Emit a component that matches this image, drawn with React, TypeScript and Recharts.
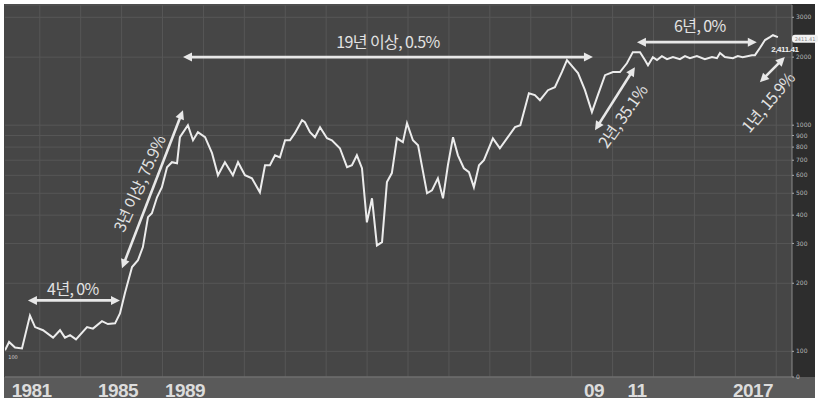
import React from "react";
import {
  LineChart,
  Line,
  XAxis,
  YAxis,
  CartesianGrid,
  ReferenceLine,
  ReferenceDot,
} from "recharts";

// KOSPI (log scale)
const years = [
  1980.0, 1980.2, 1980.49, 1980.83, 1981.22, 1981.47, 1981.86, 1982.35, 1982.69, 1982.93,
  1983.18, 1983.47, 1984.01, 1984.3, 1984.74, 1985.03, 1985.38, 1985.62, 1985.87, 1986.21,
  1986.5, 1986.74, 1986.99, 1987.18, 1987.43, 1987.67, 1987.92, 1988.16, 1988.41, 1988.55,
  1988.94, 1989.19, 1989.43, 1989.78, 1990.12, 1990.41, 1990.75, 1991.14, 1991.39, 1991.73,
  1992.07, 1992.46, 1992.71, 1992.95, 1993.2, 1993.44, 1993.69, 1993.93, 1994.17, 1994.52,
  1994.66, 1994.91, 1995.15, 1995.4, 1995.74, 1995.98, 1996.37, 1996.72, 1996.96, 1997.2,
  1997.45, 1997.69, 1997.94, 1998.18, 1998.43, 1998.67, 1998.91, 1999.16, 1999.45, 1999.65,
  1999.94, 2000.19, 2000.63, 2000.87, 2001.16, 2001.41, 2001.65, 2001.9, 2002.14, 2002.43,
  2002.68, 2002.92, 2003.17, 2003.41, 2003.85, 2004.19, 2004.58, 2004.93, 2005.19, 2005.61,
  2005.9, 2006.15, 2006.54, 2006.88, 2007.22, 2007.47, 2007.76, 2008.01, 2008.35, 2008.69,
  2008.98, 2009.33, 2009.72, 2010.06, 2010.4, 2010.69, 2011.04, 2011.28, 2011.43, 2011.67,
  2011.87, 2012.11, 2012.36, 2012.65, 2012.99, 2013.24, 2013.48, 2013.82, 2014.21, 2014.56,
  2014.8, 2014.95, 2015.19, 2015.58, 2015.82, 2016.06, 2016.51, 2016.66, 2016.9, 2017.15,
  2017.39, 2017.54, 2017.78,
];

const kospi = [
  101, 110, 104, 103, 144, 128, 124, 115, 124, 115,
  118, 113, 128, 126, 136, 132, 133, 147, 182, 236,
  253, 289, 392, 408, 480, 532, 652, 686, 679, 885,
  1000, 858, 931, 885, 752, 601, 686, 601, 686, 601,
  582, 505, 665, 665, 736, 721, 858, 858, 922, 1052,
  1031, 931, 885, 980, 875, 858, 791, 652, 665, 736,
  645, 372, 475, 294, 304, 560, 614, 875, 841, 1021,
  858, 816, 500, 515, 582, 475, 665, 885, 736, 645,
  620, 532, 665, 700, 875, 791, 885, 980, 1000, 1385,
  1358, 1290, 1428, 1472, 1717, 1941, 1807, 1699, 1428, 1142,
  1358, 1664, 1717, 1717, 1879, 2104, 2104, 1941, 1841, 2000,
  1941, 2020, 1958, 2000, 1958, 2020, 1979, 2020, 1958, 2000,
  1979, 2084, 2000, 1979, 2020, 2000, 2040, 2040, 2193, 2379,
  2451, 2500, 2451,
];

const xTickYears = [1981.3, 1985.52, 1988.8, 2008.79, 2010.89, 2016.56];
const xTickLabels = ["1981", "1985", "1989", "09", "11", "2017"];
const gridYears = [
  1981.7, 1983.7, 1985.7, 1987.7, 1989.7, 1991.7, 1993.7, 1995.7, 1997.7, 1999.7,
  2001.7, 2003.7, 2005.7, 2007.7, 2009.7, 2011.7, 2013.7, 2015.7, 2017.7,
];
const yTicks = [77, 100, 200, 300, 400, 500, 600, 700, 800, 900, 1000, 2000, 3000];

const spanTexts = ["4년, 0%", "3년 이상, 75.9%", "19년 이상, 0.5%", "2년, 35.1%", "6년, 0%", "1년, 15.9%"];
const spanFrom = [[1981.12, 168], [1985.72, 233], [1988.7, 2000], [2008.84, 950], [2010.89, 2329], [2016.9, 1549]];
const spanTo = [[1985.62, 168], [1988.7, 1165], [2008.74, 2000], [2010.79, 1806], [2016.75, 2329], [2018.12, 2000]];

const lastValue = 2411.41;

const data = years.map((y, i) => ({ year: y, v: kospi[i] }));

// label placement relative to arrow midpoint: dx, dy, rotation
const labelPos = [
  [-1, -12, 0],
  [-14, -6, -66],
  [0, -16, 0],
  [7, 17, -55],
  [3, -17, 0],
  [-5, 32, -50],
];

const WHITE = "#e8e8e8";
const FONT = "'Noto Sans CJK KR', 'Noto Sans', sans-serif";

function arrowShape(text: string, pos: number[]) {
  return (p: any) => {
    const { x1, y1, x2, y2 } = p;
    const len = Math.hypot(x2 - x1, y2 - y1) || 1;
    const ux = (x2 - x1) / len;
    const uy = (y2 - y1) / len;
    const head = (tx: number, ty: number, dx: number, dy: number) => {
      const bx = tx - dx * 9;
      const by = ty - dy * 9;
      const px = -dy * 4.5;
      const py = dx * 4.5;
      return (
        <polygon
          points={`${tx},${ty} ${bx + px},${by + py} ${bx - px},${by - py}`}
          fill={WHITE}
        />
      );
    };
    const mx = (x1 + x2) / 2 + pos[0];
    const my = (y1 + y2) / 2 + pos[1];
    return (
      <g>
        <line
          x1={x1 + ux * 6}
          y1={y1 + uy * 6}
          x2={x2 - ux * 6}
          y2={y2 - uy * 6}
          stroke={WHITE}
          strokeWidth={2.6}
        />
        {head(x2, y2, ux, uy)}
        {head(x1, y1, -ux, -uy)}
        <text
          x={mx}
          y={my}
          transform={`rotate(${pos[2]}, ${mx}, ${my})`}
          textAnchor="middle"
          dominantBaseline="central"
          fill="#e2e2e2"
          fontSize={16}
          letterSpacing={-0.6}
          fontFamily={FONT}
        >
          {text}
        </text>
      </g>
    );
  };
}

function XTick(props: any) {
  const { x, y, payload } = props;
  const idx = xTickYears.indexOf(payload.value);
  return (
    <text
      x={x}
      y={y + 20}
      textAnchor="middle"
      fill="#dcdcdc"
      fontSize={19}
      fontWeight={700}
      letterSpacing={-0.6}
      fontFamily="'Liberation Sans', Arial, sans-serif"
    >
      {idx >= 0 ? xTickLabels[idx] : ""}
    </text>
  );
}

export default function App() {
  return (
    <div
      style={{
        position: "absolute",
        left: 0,
        top: 0,
        width: 819,
        height: 402,
        background: "#ffffff",
      }}
    >
      <div style={{ position: "absolute", left: 4, top: 4, width: 788, height: 374, background: "#464646" }} />
      <div style={{ position: "absolute", left: 792, top: 4, width: 23, height: 374, background: "#2d2d2d" }} />
      <div style={{ position: "absolute", left: 4, top: 377, width: 811, height: 21, background: "#5a5a5a" }} />
      <div style={{ position: "absolute", left: 0, top: 0 }}>
        <LineChart
          width={819}
          height={402}
          data={data}
          margin={{ top: 5, right: 4, bottom: 4, left: 5 }}
        >
          <CartesianGrid vertical={false} stroke="#575757" strokeWidth={1} />
          {gridYears.map((g) => (
            <ReferenceLine key={g} x={g} stroke="#575757" strokeWidth={1} />
          ))}
          <XAxis
            type="number"
            dataKey="year"
            domain={[1980, 2018.47]}
            allowDataOverflow
            ticks={xTickYears}
            interval={0}
            tick={<XTick />}
            tickLine={false}
            tickSize={0}
            tickMargin={0}
            height={21}
            axisLine={{ stroke: "#7a7a7a" }}
          />
          <YAxis
            orientation="right"
            scale="log"
            domain={[77, 3400]}
            allowDataOverflow
            ticks={yTicks}
            interval={0}
            width={23}
            tickSize={2}
            tickLine={{ stroke: "#aaaaaa" }}
            axisLine={{ stroke: "#8a8a8a" }}
            tick={{ fill: "#b8b8b8", fontSize: 6, fontFamily: "'DejaVu Sans', sans-serif" }}
            tickFormatter={(v: number) => (v === 77 ? "0" : String(v))}
          />
          <Line
            type="linear"
            dataKey="v"
            stroke="#ececec"
            strokeWidth={2}
            dot={false}
            isAnimationActive={false}
          />
          {spanTexts.map((t, i) => (
            <ReferenceLine
              key={t}
              segment={[
                { x: spanFrom[i][0], y: spanFrom[i][1] },
                { x: spanTo[i][0], y: spanTo[i][1] },
              ]}
              ifOverflow="visible"
              shape={arrowShape(t, labelPos[i])}
            />
          ))}
          <ReferenceDot
            x={1980}
            y={100}
            r={0}
            ifOverflow="visible"
            shape={(p: any) => (
              <text x={p.cx + 8} y={p.cy + 8} fontSize={5} fill="#cfcfcf" textAnchor="middle" fontFamily="'DejaVu Sans', sans-serif">
                100
              </text>
            )}
          />
          <ReferenceDot
            x={2017.78}
            y={lastValue}
            r={0}
            ifOverflow="visible"
            shape={(p: any) => (
              <text x={p.cx + 7} y={p.cy + 13} fontSize={8} fontWeight={700} fill="#f0f0f0" textAnchor="middle" letterSpacing={-0.4} fontFamily="'Liberation Sans', Arial, sans-serif">
                2,411.41
              </text>
            )}
          />
          <ReferenceDot
            x={2018.47}
            y={lastValue}
            r={0}
            ifOverflow="visible"
            shape={(p: any) => (
              <g>
                <rect x={p.cx} y={p.cy - 4} width={26} height={8} rx={3} fill="#f2f2f2" />
                <text x={p.cx + 13} y={p.cy + 2} fontSize={5} fill="#888" textAnchor="middle" fontFamily="'DejaVu Sans', sans-serif">
                  2411.41
                </text>
              </g>
            )}
          />
        </LineChart>
      </div>
    </div>
  );
}
